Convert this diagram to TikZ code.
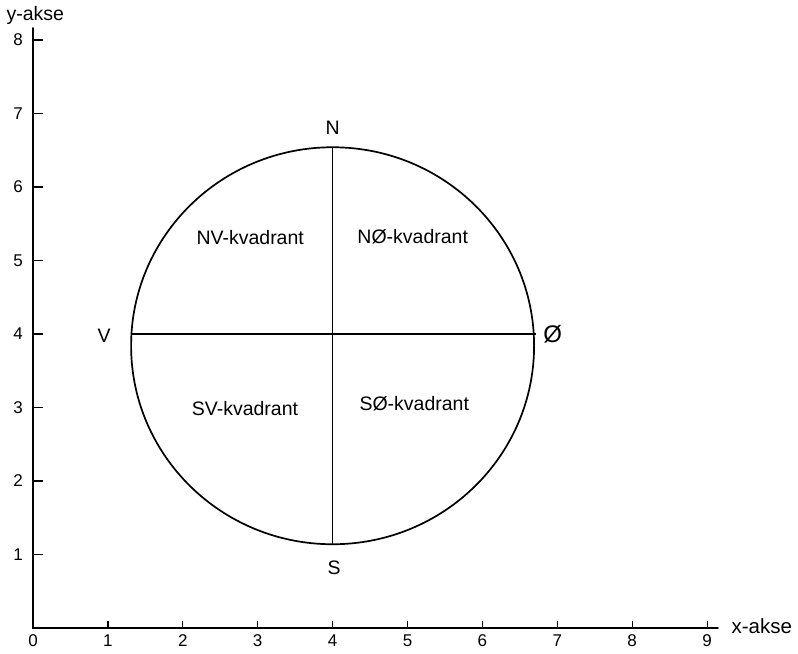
\documentclass[tikz,border=0pt]{standalone}
\usepackage{fontspec}
\setmainfont{Liberation Sans}
\usetikzlibrary{shapes.geometric}
\begin{document}
\begin{tikzpicture}[x=74.9pt,y=73.5pt,
  axisline/.style={line width=2pt},
  tickline/.style={line width=1.2pt},
  shape line/.style={line width=1.7pt},
  numlabel/.style={font=\fontsize{17}{20}\selectfont, inner sep=0pt},
  biglabel/.style={font=\fontsize{19.5}{22}\selectfont, inner sep=0pt},
  quadlabel/.style={font=\fontsize{19.5}{22}\selectfont, inner sep=0pt}]
\useasboundingbox (-0.4406,-0.3537) rectangle (10.2136,8.5442);
% axes
\coordinate (O) at (0,0);
\coordinate (ytop) at (0,8.163);
\coordinate (xend) at (9.145,0);
\draw[axisline, line cap=round] (ytop) -- (O) -- (xend);
% ticks
\foreach \k in {1,...,9} {
  \coordinate (xt\k) at (\k,0);
  \coordinate (xu\k) at (\k,0.10);
  \draw[tickline] (xt\k) -- (xu\k);
  \node[numlabel] (xl\k) at (\k,-0.17) {\k};
}
\node[numlabel] (xl0) at (0,-0.17) {0};
\foreach \k in {1,...,8} {
  \coordinate (yt\k) at (0,\k);
  \coordinate (yr\k) at (0.13,\k);
  \draw[tickline] (yt\k) -- (yr\k);
  \node[numlabel] (yl\k) at (-0.2,\k) {\k};
}
\node[biglabel] (yname) at (0.03,8.34) {y-akse};
\node[font=\fontsize{20.5}{24}\selectfont, inner sep=0pt] (xname) at (9.73,0.02) {x-akse};
% circle
\node[ellipse, draw, shape line, inner sep=0pt, outer sep=0pt,
  minimum width=403pt, minimum height=397pt] (circ) at (4,3.84) {};
\draw[shape line] (circ.north) -- (circ.south);
\coordinate (westend) at (1.315,4);
\coordinate (eastend) at (6.715,4);
\draw[shape line] (westend) -- (eastend);
% compass letters
\node[biglabel] (N) at (4,6.80) {N};
\node[biglabel] (S) at (4.02,0.82) {S};
\node[biglabel] (V) at (0.95,3.97) {V};
\node[font=\fontsize{24}{28}\selectfont, inner sep=0pt] (E) at (6.94,4.0) {Ø};
% quadrant labels
\node[quadlabel] (nv) at (2.90,5.31) {NV-kvadrant};
\node[quadlabel] (no) at (5.07,5.33) {NØ-kvadrant};
\node[quadlabel] (sv) at (2.83,2.99) {SV-kvadrant};
\node[quadlabel] (so) at (5.09,3.05) {SØ-kvadrant};
\end{tikzpicture}
\end{document}
